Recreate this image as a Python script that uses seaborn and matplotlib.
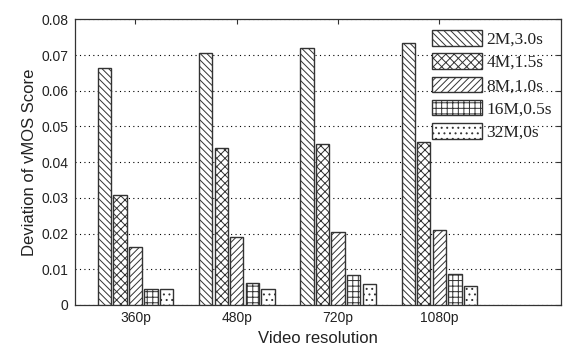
import matplotlib
matplotlib.use("Agg")
import matplotlib.pyplot as plt
from matplotlib.patches import Patch
import seaborn as sns
import pandas as pd

# ---- data ----
resolutions = ["360p", "480p", "720p", "1080p"]
configs = ["2M,3.0s", "4M,1.5s", "8M,1.0s", "16M,0.5s", "32M,0s"]
vals_2M = [0.0664, 0.0705, 0.0721, 0.0733]
vals_4M = [0.0309, 0.0440, 0.0450, 0.0457]
vals_8M = [0.0163, 0.0190, 0.0204, 0.0209]
vals_16M = [0.0044, 0.0063, 0.0083, 0.0087]
vals_32M = [0.0044, 0.0044, 0.0058, 0.0054]
yticks = [0, 0.01, 0.02, 0.03, 0.04, 0.05, 0.06, 0.07, 0.08]
ytick_labels = ["0", "0.01", "0.02", "0.03", "0.04", "0.05", "0.06", "0.07", "0.08"]
xlabel = "Video resolution"
ylabel = "Deviation of vMOS Score"

series = [vals_2M, vals_4M, vals_8M, vals_16M, vals_32M]
rows = []
for cfg, vals in zip(configs, series):
    for r, v in zip(resolutions, vals):
        rows.append({"res": r, "cfg": cfg, "val": v})
df = pd.DataFrame(rows)

hatches = ["\\" * 5, "xxxx", "/" * 5, "+++", "..."]
edge = "#333333"

sns.set_style("white")
plt.rcParams["hatch.linewidth"] = 0.7
plt.rcParams["hatch.color"] = "#222222"
plt.rcParams["font.family"] = ["Liberation Sans", "DejaVu Sans"]

fig = plt.figure(figsize=(5.64, 3.5), dpi=100)
ax = fig.add_axes([74.7 / 564, 45 / 350, (561 - 74.7) / 564, (305 - 19.4) / 350])

sns.barplot(data=df, x="res", y="val", hue="cfg", order=resolutions,
            hue_order=configs, width=0.77, gap=0.15,
            palette=["white"] * 5, edgecolor=edge, linewidth=1.0,
            legend=False, ax=ax, zorder=3)

for cont, h in zip(ax.containers, hatches):
    for bar in cont:
        bar.set_hatch(h)
        bar.set_edgecolor(edge)
        bar.set_facecolor("white")

ax.set_xlim(-0.6, 4.2)
ax.set_ylim(0, 0.08)
ax.set_yticks(yticks)
ax.set_yticklabels(ytick_labels)
ax.yaxis.grid(True, linestyle=(0, (1, 3)), color="black", linewidth=0.8)
ax.xaxis.grid(False)
ax.set_axisbelow(True)
for sp in ax.spines.values():
    sp.set_visible(True)
    sp.set_color(edge)
    sp.set_linewidth(0.9)
ax.tick_params(axis="both", direction="in", length=3.6, width=0.8, color=edge,
               labelsize=10, top=True, right=True, pad=4.5, labelcolor="#222222")

ax.set_xlabel(xlabel, fontsize=12, labelpad=4, color="#222222")
ax.set_ylabel(ylabel, fontsize=12, labelpad=3, color="#222222")

handles = [Patch(facecolor="white", edgecolor=edge, hatch=h, linewidth=1.0) for h in hatches]
leg = ax.legend(handles, configs, loc="upper left", bbox_to_anchor=(0.7347, 0.963),
                frameon=False, borderpad=0, borderaxespad=0, handlelength=2.88,
                handleheight=1.0, labelspacing=0.32, handletextpad=0.25,
                prop={"family": ["Liberation Serif", "DejaVu Serif"], "size": 12.5})
for t in leg.get_texts():
    t.set_color("#222222")

fig.savefig("out.png", dpi=100)
